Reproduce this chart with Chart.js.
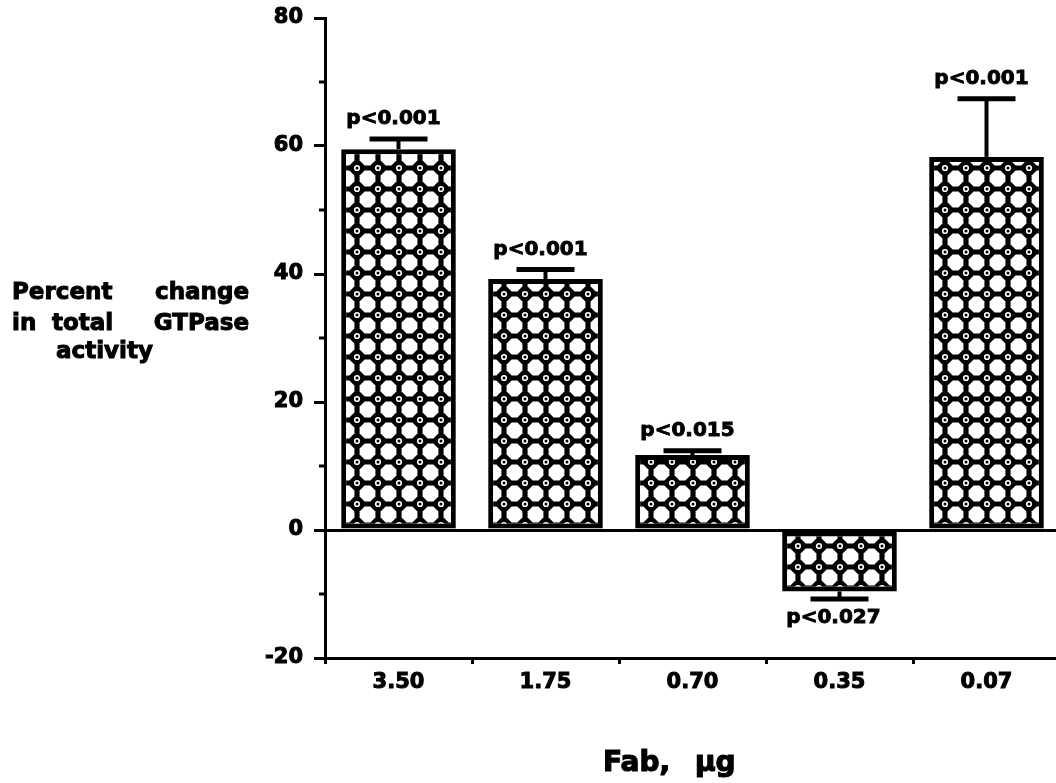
<!DOCTYPE html>
<html>
<head>
<meta charset="utf-8">
<script src="https://cdn.jsdelivr.net/npm/chart.js@4/dist/chart.umd.min.js"></script>
<style>
  html, body { margin: 0; padding: 0; background: #fff; overflow: hidden; width: 1056px; height: 783px; }
  canvas { display: block; }
</style>
</head>
<body>
<canvas id="c" width="1064" height="783"></canvas>
<script>
// Fab dose (µg) per bar
const doses = ['3.50', '1.75', '0.70', '0.35', '0.07'];
// Percent change in total GTPase activity
const change = [59.5, 39.2, 11.7, -9.6, 58.3];
// Error bar half-lengths
const sem = [1.6, 1.5, 0.7, 1.2, 9.1];
// Significance labels
const pLabels = ['p<0.001', 'p<0.001', 'p<0.015', 'p<0.027', 'p<0.001'];
// Y axis range and tick steps
const yMin = -20, yMax = 80, yMajor = 20, yMinor = 10;

const FONT = '"DejaVu Sans", "Liberation Sans", sans-serif';

// Black net fill with white octagons and small rings at the crossings
function makeNetPattern() {
  const s = 21;
  const cv = document.createElement('canvas');
  cv.width = s; cv.height = s;
  const g = cv.getContext('2d');
  g.fillStyle = '#000';
  g.fillRect(0, 0, s, s);
  const m = s / 2, h = 7.9, k = 5.0;
  g.fillStyle = '#fff';
  g.beginPath();
  g.moveTo(m - h + k, m - h); g.lineTo(m + h - k, m - h);
  g.lineTo(m + h, m - h + k); g.lineTo(m + h, m + h - k);
  g.lineTo(m + h - k, m + h); g.lineTo(m - h + k, m + h);
  g.lineTo(m - h, m + h - k); g.lineTo(m - h, m - h + k);
  g.closePath();
  g.fill();
  for (const [cx, cy] of [[0, 0], [s, 0], [0, s], [s, s]]) {
    g.fillStyle = '#fff';
    g.beginPath(); g.arc(cx, cy, 3.1, 0, Math.PI * 2); g.fill();
    g.fillStyle = '#000';
    g.beginPath(); g.arc(cx, cy, 1.5, 0, Math.PI * 2); g.fill();
  }
  return g.createPattern(cv, 'repeat');
}

// Heavy text: fill plus a thin outline of the same colour
function heavyText(g, txt, x, y) {
  g.fillText(txt, x, y);
  g.strokeText(txt, x, y);
}

// Short minor ticks between the labelled ones on the value axis
const minorTicks = {
  id: 'minorTicks',
  afterDraw(chart) {
    const y = chart.scales.y, g = chart.ctx;
    const x0 = chart.chartArea.left;
    g.save();
    g.strokeStyle = '#000';
    g.lineWidth = 3;
    for (let v = yMin + yMinor; v < yMax; v += yMajor) {
      const py = y.getPixelForValue(v);
      g.beginPath(); g.moveTo(x0 - 6, py); g.lineTo(x0, py); g.stroke();
    }
    g.restore();
  }
};

// Error bars with their significance labels
const errorBars = {
  id: 'errorBars',
  afterDatasetsDraw(chart) {
    const g = chart.ctx, y = chart.scales.y;
    const meta = chart.getDatasetMeta(0);
    g.save();
    g.strokeStyle = '#000';
    g.fillStyle = '#000';
    meta.data.forEach((bar, i) => {
      const v = change[i];
      const dir = v >= 0 ? 1 : -1;
      const end = v + dir * sem[i];
      const y0 = y.getPixelForValue(v);
      const y1 = y.getPixelForValue(end);
      g.lineWidth = 4;
      g.beginPath(); g.moveTo(bar.x, y0); g.lineTo(bar.x, y1); g.stroke();
      g.lineWidth = 5;
      g.beginPath(); g.moveTo(bar.x - 29, y1); g.lineTo(bar.x + 29, y1); g.stroke();
      g.font = 'bold 20px ' + FONT;
      g.textAlign = 'center';
      g.textBaseline = 'alphabetic';
      g.lineWidth = 0.9;
      if (dir > 0) heavyText(g, pLabels[i], bar.x - 5, y1 - 15);
      else heavyText(g, pLabels[i], bar.x - 6, y1 + 24);
    });
    g.restore();
  }
};

// Axis titles (the value-axis title is set horizontally, in three lines)
const axisTitles = {
  id: 'axisTitles',
  afterDraw(chart) {
    const g = chart.ctx;
    g.save();
    g.fillStyle = '#000';
    g.strokeStyle = '#000';
    g.lineWidth = 1;
    g.textBaseline = 'alphabetic';
    g.font = 'bold 23px ' + FONT;
    g.textAlign = 'left';
    heavyText(g, 'Percent', 12, 299);
    heavyText(g, 'in', 12, 330);
    heavyText(g, 'total', 52, 330);
    heavyText(g, 'activity', 56, 358);
    g.textAlign = 'right';
    heavyText(g, 'change', 249, 299);
    heavyText(g, 'GTPase', 249, 330);
    g.font = 'bold 28px ' + FONT;
    g.lineWidth = 1.2;
    g.textAlign = 'left';
    heavyText(g, 'Fab,', 603, 771);
    heavyText(g, '\u03BCg', 695, 771);
    g.restore();
  }
};

new Chart(document.getElementById('c'), {
  type: 'bar',
  data: {
    labels: doses,
    datasets: [{
      data: change,
      backgroundColor: makeNetPattern(),
      borderColor: '#000',
      borderWidth: 5,
      borderSkipped: false,
      categoryPercentage: 1,
      barPercentage: 0.78
    }]
  },
  options: {
    responsive: false,
    animation: false,
    layout: { padding: { top: 18, right: 4, left: 0, bottom: 0 } },
    plugins: { legend: { display: false }, tooltip: { enabled: false } },
    scales: {
      x: {
        afterFit: s => { s.height = 125; },
        grid: { offset: true, drawOnChartArea: false, tickLength: 6, tickColor: '#000', tickWidth: 3 },
        border: { display: true, color: '#000', width: 3 },
        ticks: {
          color: '#000', padding: 6,
          textStrokeColor: '#000', textStrokeWidth: 1,
          font: { family: FONT, size: 21, weight: 'bold' }
        }
      },
      y: {
        min: yMin,
        max: yMax,
        afterFit: s => { s.width = 325; s.paddingTop = 0; s.paddingBottom = 0; },
        ticks: {
          stepSize: yMajor, color: '#000', padding: 11,
          textStrokeColor: '#000', textStrokeWidth: 1,
          font: { family: FONT, size: 21, weight: 'bold' }
        },
        grid: {
          drawOnChartArea: true,
          color: c => (c.tick && c.tick.value === 0 ? '#000' : 'rgba(0,0,0,0)'),
          lineWidth: 3,
          tickLength: 11,
          tickColor: '#000',
          tickWidth: 3
        },
        border: { display: true, color: '#000', width: 3 }
      }
    }
  },
  plugins: [minorTicks, errorBars, axisTitles]
});
</script>
</body>
</html>
